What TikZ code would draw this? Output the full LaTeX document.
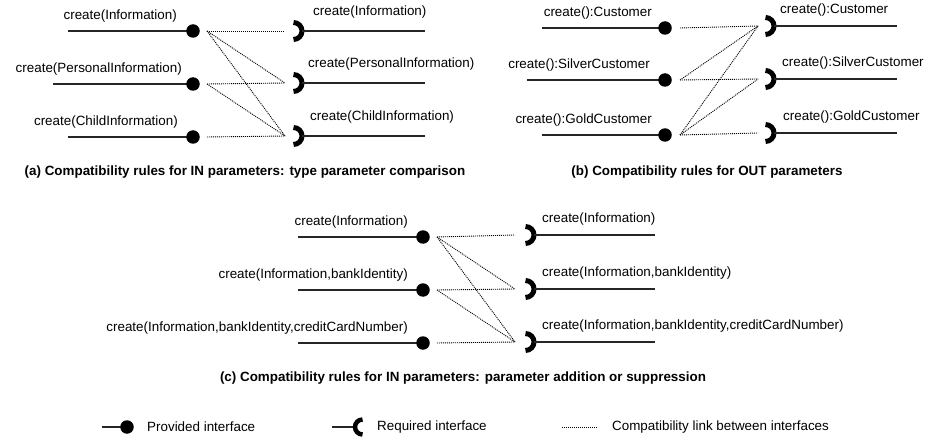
\documentclass[tikz,border=0pt]{standalone}
\usepackage{fontspec}
\setmainfont{Liberation Sans}
\usetikzlibrary{calc}

\tikzset{
  wire/.style={line width=1.1pt, black!85},
  ball/.style={circle, fill=black, inner sep=0pt, minimum size=13.5pt},
  socket/.style={line width=5pt},
  link/.style={line width=0.9pt, black, dash pattern=on 1pt off 1pt},
  lbl/.style={font=\fontsize{13.4}{15}\selectfont, inner sep=0pt},
  capt/.style={font=\fontsize{13.4}{15}\selectfont\bfseries, inner sep=0pt}
}

\begin{document}
\begin{tikzpicture}[x=1pt,y=-1pt]
    \useasboundingbox (0,0) rectangle (927,441);

    % (a) provided side
    \foreach \i/\y/\xs/\txt/\xl in {1/31/68/Information/177, 2/84/53/PersonalInformation/182, 3/137/68/ChildInformation/178} {
        \coordinate (wa_\i) at (\xs,\y);
        \coordinate (la_\i) at (207,\y);
        \draw[wire] (wa_\i) -- (193,\y);
        \node[ball] (pa_\i) at (193,\y) {};
        \node[lbl,anchor=east] (ta_\i) at (\xl,\y-15) {create(\txt)};
    }
    % (a) required side
    \foreach \i/\y/\txt/\xl in {1/31/Information/313, 2/83/PersonalInformation/308, 3/136/ChildInformation/310} {
        \coordinate (sa_\i) at (285,\y);
        \coordinate (ra_\i) at (302,\y);
        \coordinate (ea_\i) at (425,\y);
        \draw[socket] ($(ra_\i)+(-8.5,8.5)$) arc (90:-90:8.5);
        \draw[wire] (ra_\i) -- (ea_\i);
        \node[lbl,anchor=west] (ua_\i) at (\xl,\y-19) {create(\txt)};
    }
    \foreach \p/\r in {1/1,1/2,1/3,2/2,2/3,3/3}
        \draw[link] (la_\p) -- (sa_\r);
    \node[capt] (capa) at (245,172) {(a) Compatibility rules for IN parameters: type parameter comparison};

    % (b) provided side
    \foreach \i/\y/\xs/\txt/\xl in {1/28/542/Customer/652, 2/80/527/SilverCustomer/650, 3/135/542/GoldCustomer/652} {
        \coordinate (wb_\i) at (\xs,\y);
        \coordinate (lb_\i) at (680,\y);
        \draw[wire] (wb_\i) -- (665,\y);
        \node[ball] (pb_\i) at (665,\y) {};
        \node[lbl,anchor=east] (tb_\i) at (\xl,\y-15) {create():\txt};
    }
    % (b) required side
    \foreach \i/\y/\txt/\xl in {1/26/Customer/780, 2/79/SilverCustomer/782, 3/133/GoldCustomer/783} {
        \coordinate (sb_\i) at (758,\y);
        \coordinate (rb_\i) at (774,\y);
        \coordinate (eb_\i) at (897,\y);
        \draw[socket] ($(rb_\i)+(-8.5,8.5)$) arc (90:-90:8.5);
        \draw[wire] (rb_\i) -- (eb_\i);
        \node[lbl,anchor=west] (ub_\i) at (\xl,\y-16) {create():\txt};
    }
    \foreach \p/\r in {1/1,2/1,2/2,3/1,3/2,3/3}
        \draw[link] (lb_\p) -- (sb_\r);
    \node[capt] (capb) at (707,172) {(b) Compatibility rules for OUT parameters};

    % (c) provided side
    \foreach \i/\y/\txt in {1/237/Information, 2/290/{Information,bankIdentity}, 3/343/{Information,bankIdentity,creditCardNumber}} {
        \coordinate (wc_\i) at (298,\y);
        \coordinate (lc_\i) at (437,\y);
        \draw[wire] (wc_\i) -- (423,\y);
        \node[ball] (pc_\i) at (423,\y) {};
        \node[lbl,anchor=east] (tc_\i) at (408,\y-15) {create(\txt)};
    }
    % (c) required side
    \foreach \i/\y/\txt in {1/235/Information, 2/289/{Information,bankIdentity}, 3/342/{Information,bankIdentity,creditCardNumber}} {
        \coordinate (sc_\i) at (515,\y);
        \coordinate (rc_\i) at (534,\y);
        \coordinate (ec_\i) at (655,\y);
        \draw[socket] ($(rc_\i)+(-8.5,8.5)$) arc (90:-90:8.5);
        \draw[wire] (rc_\i) -- (ec_\i);
        \node[lbl,anchor=west] (uc_\i) at (542,\y-16) {create(\txt)};
    }
    \foreach \p/\r in {1/1,1/2,1/3,2/2,2/3,3/3}
        \draw[link] (lc_\p) -- (sc_\r);
    \node[capt] (capc) at (463,378) {(c) Compatibility rules for IN parameters: parameter addition or suppression};

    % legend
    \coordinate (kp_w) at (102,427);
    \draw[wire] (kp_w) -- (127,427);
    \node[ball] (kp) at (127,427) {};
    \node[lbl,anchor=west] (kp_t) at (147,427) {Provided interface};
    \coordinate (kr_w) at (332,427);
    \coordinate (kr) at (353,427);
    \draw[wire] (kr_w) -- (kr);
    \draw[socket, line width=4.5pt] ($(kr)+(9.5,-7.5)$) arc (-90:-270:7.5);
    \node[lbl,anchor=west] (kr_t) at (377,427) {Required interface};
    \coordinate (kl_a) at (562,427);
    \coordinate (kl_b) at (598,427);
    \draw[link] (kl_a) -- (kl_b);
    \node[lbl,anchor=west] (kl_t) at (612,427) {Compatibility link between interfaces};
\end{tikzpicture}
\end{document}
